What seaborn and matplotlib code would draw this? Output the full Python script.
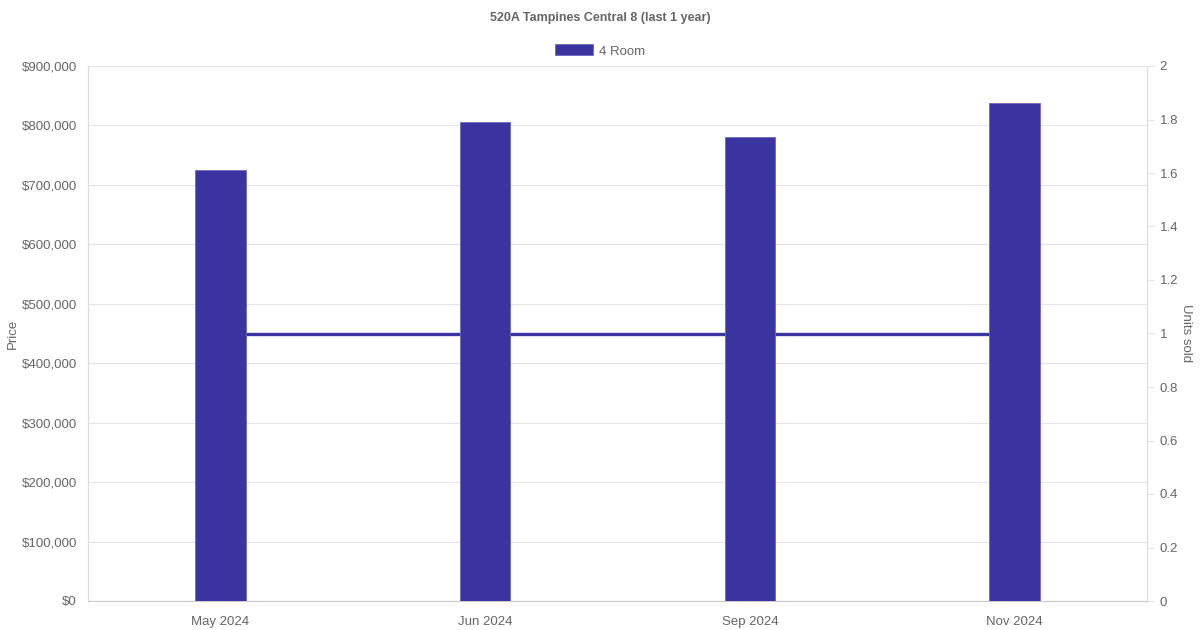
import matplotlib
matplotlib.use("Agg")
import matplotlib.pyplot as plt
import matplotlib.ticker as mticker
from matplotlib.patches import Patch
import numpy as np
import pandas as pd
import seaborn as sns

# data
months = ["May 2024", "Jun 2024", "Sep 2024", "Nov 2024"]
prices = [725000, 805000, 780000, 838000]
units_sold = [1, 1, 1, 1]

bar_color = "#3934a0"
text_color = "#666666"
grid_color = "#e5e5e5"

sns.set_theme(style="white")
plt.rcParams["font.family"] = ["Liberation Sans", "DejaVu Sans"]

df = pd.DataFrame({"month": months, "price": prices, "units": units_sold})

fig = plt.figure(figsize=(12, 6.3), dpi=100)
ax = fig.add_axes([88 / 1200, 29 / 630, 1059 / 1200, 535 / 630])
ax2 = ax.twinx()

# bars on the left (price) axis, drawn above the units line
sns.barplot(data=df, x="month", y="price", ax=ax, color=bar_color,
            width=0.19, saturation=1, edgecolor="#6f6bbd", linewidth=0.6, zorder=3)
for bar in ax.patches:
    bar.set_joinstyle("round")
sns.lineplot(x=np.arange(len(months)), y=df["units"], ax=ax2, color=bar_color,
             linewidth=2.4, zorder=1)

ax.set_zorder(ax2.get_zorder() + 1)
ax.patch.set_visible(False)

ax.set_xlim(-0.5, len(months) - 0.5)
ax.set_ylim(0, 900000)
ax.yaxis.set_major_locator(mticker.MultipleLocator(100000))
ax.yaxis.set_major_formatter(mticker.FuncFormatter(lambda v, p: f"${v:,.0f}"))
ax.grid(axis="y", color=grid_color, linewidth=0.8)
ax.set_axisbelow(True)
ax.tick_params(axis="y", length=0, pad=8, labelsize=9.5, labelcolor=text_color)
ax.tick_params(axis="x", length=0, pad=10.5, labelsize=9.5, labelcolor=text_color)
ax.set_xlabel("")
ax.set_ylabel("Price", color=text_color, fontsize=9.5, labelpad=2)

ax2.set_ylim(0, 2)
ax2.yaxis.set_major_locator(mticker.MultipleLocator(0.2))
ax2.yaxis.set_major_formatter(mticker.FuncFormatter(lambda v, p: f"{v:g}"))
ax2.tick_params(axis="y", length=5, width=0.8, color=grid_color, pad=4,
                labelsize=9.5, labelcolor=text_color)
ax2.set_ylabel("Units sold", color=text_color, fontsize=9.5, rotation=270, labelpad=10)
ax2.grid(False)

for a in (ax, ax2):
    a.spines["top"].set_visible(False)
    a.spines["left"].set_color("#dddddd")
    a.spines["right"].set_color("#dddddd")
    a.spines["bottom"].set_color("#cccccc")
    for s in a.spines.values():
        s.set_linewidth(0.8)

fig.text(0.5, 1 - 18 / 630, "520A Tampines Central 8 (last 1 year)", ha="center", va="center",
         fontsize=9, fontweight="bold", color=text_color)

handle = Patch(facecolor=bar_color, edgecolor="#6f6bbd", linewidth=0.6)
fig.legend([handle], ["4 Room"], loc="center", bbox_to_anchor=(0.5, 1 - 51 / 630),
           frameon=False, handlelength=2.9, handleheight=0.9, handletextpad=0.5,
           fontsize=9.5, labelcolor=text_color)

fig.savefig("out.png", dpi=100, facecolor="white")
